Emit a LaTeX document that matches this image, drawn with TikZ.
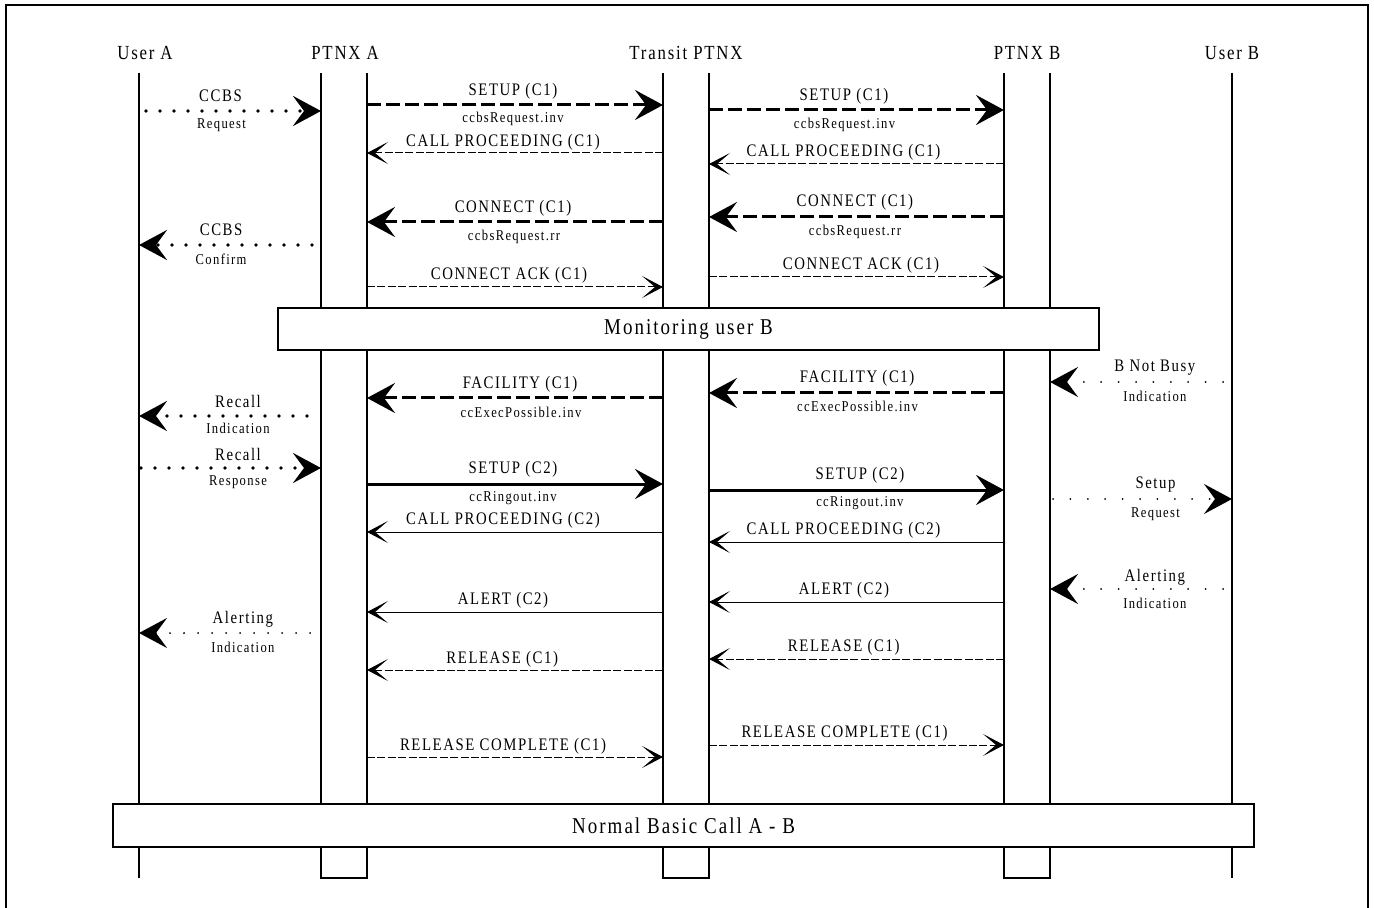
\documentclass[tikz,border=0pt]{standalone}
\usepackage{fontspec}
\setmainfont{Liberation Serif}[FakeStretch=0.84, LetterSpace=9]
\usetikzlibrary{arrows.meta}

\newcommand{\fsize}[1]{\fontsize{#1}{#1}\selectfont}
\tikzset{head/.style={font=\fsize{10}, inner sep=1pt}}
\tikzset{lbl/.style={font=\fsize{8.8}, inner sep=1pt}}
\tikzset{sublbl/.style={font=\fsize{7.5}, inner sep=1pt}}
\tikzset{msgbar/.style={draw, fill=white, line width=1pt, font=\fsize{11.3}}}
\tikzset{bigtip/.style={-{Stealth[length=14pt, width=15pt, inset=5.5pt]}}}
\tikzset{smalltip/.style={-{Stealth[length=10.5pt, width=11pt, inset=6.5pt]}}}
\tikzset{boldmsg/.style={bigtip, line width=1.5pt}}
\tikzset{plainmsg/.style={smalltip, line width=0.5pt}}
\tikzset{longdash/.style={dash pattern=on 7pt off 2.5pt}}
\tikzset{shortdash/.style={dash pattern=on 4pt off 1.2pt}}
\tikzset{bigdots/.style={bigtip, line width=1.8pt, line cap=round, dash pattern=on 0pt off 7pt}}
\tikzset{smalldots/.style={bigtip, line width=1pt, line cap=round, dash pattern=on 0pt off 8.7pt}}

\begin{document}
\begin{tikzpicture}[x=0.5pt, y=-0.5pt]
  \useasboundingbox (0,0) rectangle (1374,908);
  % --- frame ---
  \draw[line width=1.1pt] (6,908) -- (6,5) -- (1368,5) -- (1368,908);

  % --- lifelines ---
  \coordinate (uA) at (139,73);
  \coordinate (pAl) at (321,73);
  \coordinate (pAr) at (367,73);
  \coordinate (tl) at (663,73);
  \coordinate (tr) at (709,73);
  \coordinate (pBl) at (1004,73);
  \coordinate (pBr) at (1050,73);
  \coordinate (uB) at (1232,73);

  \node[head] (hUA) at (145,53) {User A};
  \node[head] (hPA) at (345,53) {PTNX A};
  \node[head] (hT) at (686,53) {Transit PTNX};
  \node[head] (hPB) at (1027,53) {PTNX B};
  \node[head] (hUB) at (1232,53) {User B};

  \draw[line width=1.1pt] (uA) -- (uA |- 0,878);
  \draw[line width=1.1pt] (uB) -- (uB |- 0,878);
  \draw[line width=0.8pt] (pAl) -- (pAl |- 0,878) -- (pAr |- 0,878) -- (pAr);
  \draw[line width=0.8pt] (tl) -- (tl |- 0,878) -- (tr |- 0,878) -- (tr);
  \draw[line width=0.8pt] (pBl) -- (pBl |- 0,878) -- (pBr |- 0,878) -- (pBr);

  % --- user A side ---
  \coordinate (ccbsQ) at (146,111);
  \coordinate (ccbsC) at (312,245);
  \coordinate (recallI) at (307,416);
  \coordinate (recallR) at (141,468);
  \coordinate (alertA) at (310,633);

  \draw[bigdots] (ccbsQ) -- node[lbl, xshift=-6.5pt, yshift=7.5pt] {CCBS} node[sublbl, xshift=-6pt, yshift=-7pt] {Request} (pAl |- ccbsQ);
  \draw[bigdots] (ccbsC) -- node[lbl, xshift=-2.2pt, yshift=7.5pt] {CCBS} node[sublbl, xshift=-2.2pt, yshift=-7pt] {Confirm} (uA |- ccbsC);
  \draw[bigdots] (recallI) -- node[lbl, xshift=7.5pt, yshift=7.5pt] {Recall} node[sublbl, xshift=7.5pt, yshift=-6.3pt] {Indication} (uA |- recallI);
  \draw[bigdots] (recallR) -- node[lbl, xshift=3.5pt, yshift=7pt] {Recall} node[sublbl, xshift=3.5pt, yshift=-7pt] {Response} (pAl |- recallR);
  \draw[smalldots, dash pattern=on 0pt off 7pt] (alertA) -- node[lbl, xshift=9.2pt, yshift=7pt] {Alerting} node[sublbl, xshift=9.2pt, yshift=-7.3pt] {Indication} (uA |- alertA);

  % --- PTNX A to Transit PTNX ---
  \draw[boldmsg, longdash] (pAr |- 0,105) -- node[lbl, xshift=-1pt, yshift=7pt] {SETUP (C1)} node[sublbl, xshift=-1pt, yshift=-6.8pt] {ccbsRequest.inv} (tl |- 0,105);
  \draw[plainmsg, shortdash] (tl |- 0,153) -- node[lbl, xshift=-6pt, yshift=5.6pt] {CALL PROCEEDING (C1)} (pAr |- 0,153);
  \draw[boldmsg, longdash] (tl |- 0,222) -- node[lbl, xshift=-1pt, yshift=6.8pt] {CONNECT (C1)} node[sublbl, xshift=-0.5pt, yshift=-7.6pt] {ccbsRequest.rr} (pAr |- 0,222);
  \draw[plainmsg, shortdash] (pAr |- 0,287) -- node[lbl, xshift=-3pt, yshift=5.9pt] {CONNECT ACK (C1)} (tl |- 0,287);
  \draw[boldmsg, longdash] (tl |- 0,398) -- node[lbl, xshift=2.5pt, yshift=6.8pt] {FACILITY (C1)} node[sublbl, xshift=3pt, yshift=-7.4pt] {ccExecPossible.inv} (pAr |- 0,398);
  \draw[boldmsg] (pAr |- 0,484) -- node[lbl, xshift=-1pt, yshift=7.4pt] {SETUP (C2)} node[sublbl, xshift=-1pt, yshift=-6.9pt] {ccRingout.inv} (tl |- 0,484);
  \draw[plainmsg] (tl |- 0,532) -- node[lbl, xshift=-6pt, yshift=5.8pt] {CALL PROCEEDING (C2)} (pAr |- 0,532);
  \draw[plainmsg] (tl |- 0,612) -- node[lbl, xshift=-6pt, yshift=5.8pt] {ALERT (C2)} (pAr |- 0,612);
  \draw[plainmsg, shortdash] (tl |- 0,670) -- node[lbl, xshift=-6.4pt, yshift=5.6pt] {RELEASE (C1)} (pAr |- 0,670);
  \draw[plainmsg, shortdash] (pAr |- 0,757) -- node[lbl, xshift=-6pt, yshift=5.6pt] {RELEASE COMPLETE (C1)} (tl |- 0,757);

  % --- Transit PTNX to PTNX B ---
  \draw[boldmsg, longdash] (tr |- 0,110) -- node[lbl, xshift=-6.3pt, yshift=7pt] {SETUP (C1)} node[sublbl, xshift=-6pt, yshift=-7.6pt] {ccbsRequest.inv} (pBl |- 0,110);
  \draw[plainmsg, shortdash] (pBl |- 0,164) -- node[lbl, xshift=-6.5pt, yshift=5.8pt] {CALL PROCEEDING (C1)} (tr |- 0,164);
  \draw[boldmsg, longdash] (pBl |- 0,217) -- node[lbl, xshift=-0.8pt, yshift=7.3pt] {CONNECT (C1)} node[sublbl, xshift=-0.8pt, yshift=-7.3pt] {ccbsRequest.rr} (tr |- 0,217);
  \draw[plainmsg, shortdash] (tr |- 0,277) -- node[lbl, xshift=2.2pt, yshift=6pt] {CONNECT ACK (C1)} (pBl |- 0,277);
  \draw[boldmsg, longdash] (pBl |- 0,393) -- node[lbl, xshift=0.3pt, yshift=7.3pt] {FACILITY (C1)} node[sublbl, xshift=0.5pt, yshift=-6.6pt] {ccExecPossible.inv} (tr |- 0,393);
  \draw[boldmsg] (tr |- 0,490) -- node[lbl, xshift=1.7pt, yshift=7.6pt] {SETUP (C2)} node[sublbl, xshift=1.7pt, yshift=-6.8pt] {ccRingout.inv} (pBl |- 0,490);
  \draw[plainmsg] (pBl |- 0,542) -- node[lbl, xshift=-6.5pt, yshift=5.7pt] {CALL PROCEEDING (C2)} (tr |- 0,542);
  \draw[plainmsg] (pBl |- 0,602) -- node[lbl, xshift=-6.3pt, yshift=6pt] {ALERT (C2)} (tr |- 0,602);
  \draw[plainmsg, shortdash] (pBl |- 0,659) -- node[lbl, xshift=-6.4pt, yshift=6pt] {RELEASE (C1)} (tr |- 0,659);
  \draw[plainmsg, shortdash] (tr |- 0,745) -- node[lbl, xshift=-6pt, yshift=5.8pt] {RELEASE COMPLETE (C1)} (pBl |- 0,745);

  % --- user B side ---
  \coordinate (notBusy) at (1223,382);
  \coordinate (setupR) at (1053,499);
  \coordinate (alertB) at (1223,589);

  \draw[smalldots] (notBusy) -- node[lbl, xshift=9.2pt, yshift=7.2pt] {B Not Busy} node[sublbl, xshift=9.2pt, yshift=-7.2pt] {Indication} (pBr |- notBusy);
  \draw[smalldots] (setupR) -- node[lbl, xshift=6.5pt, yshift=7.3pt] {Setup} node[sublbl, xshift=6.5pt, yshift=-7.5pt] {Request} (uB |- setupR);
  \draw[smalldots] (alertB) -- node[lbl, xshift=9.2pt, yshift=6pt] {Alerting} node[sublbl, xshift=9.2pt, yshift=-7.3pt] {Indication} (pBr |- alertB);

  % --- phases ---
  \node[msgbar, minimum width=410.5pt, minimum height=21pt] (mon) at (688.5,329) {Monitoring user B};
  \node[msgbar, minimum width=570.5pt, minimum height=21.5pt] (nbc) at (683.5,825.5) {Normal Basic Call A - B};
\end{tikzpicture}
\end{document}
